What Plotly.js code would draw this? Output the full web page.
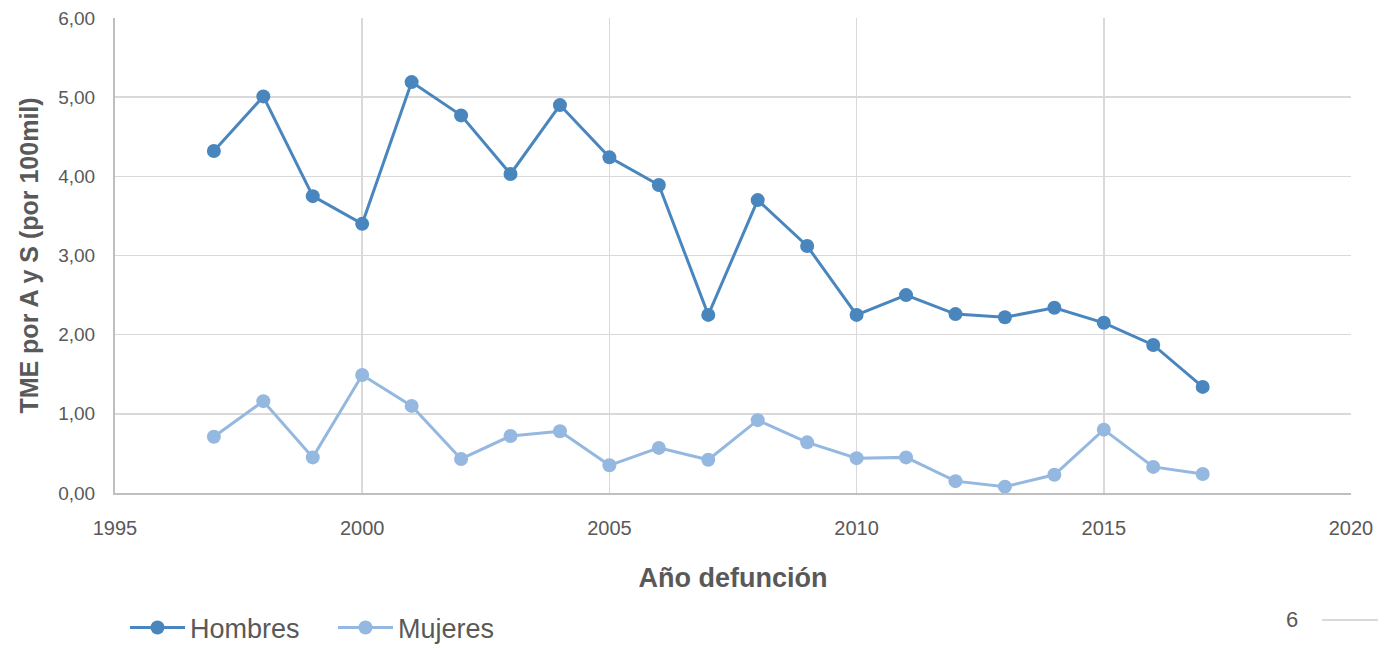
<!DOCTYPE html>
<html><head><meta charset="utf-8">
<script src="https://cdn.plot.ly/plotly-3.0.1.min.js"></script>
<style>html,body{margin:0;padding:0;background:#fff}#c{width:1378px;height:646px}</style>
</head><body><div id="c"></div>
<script>
const years = [1997,1998,1999,2000,2001,2002,2003,2004,2005,2006,2007,2008,2009,2010,2011,2012,2013,2014,2015,2016,2017];
const hombres = [4.32,5.01,3.75,3.40,5.19,4.77,4.03,4.90,4.24,3.89,2.25,3.70,3.12,2.25,2.50,2.26,2.22,2.34,2.15,1.87,1.34];
const mujeres = [0.71,1.16,0.45,1.49,1.10,0.43,0.72,0.78,0.35,0.57,0.42,0.92,0.64,0.44,0.45,0.15,0.08,0.23,0.80,0.33,0.24];
const font = "Liberation Sans, Arial, sans-serif";
const traces = [
  {x: years, y: hombres, name: 'Hombres', mode: 'lines+markers', line: {color: '#4a86be', width: 3}, marker: {size: 14, color: '#4a86be'}},
  {x: years, y: mujeres, name: 'Mujeres', mode: 'lines+markers', line: {color: '#95b8e0', width: 3}, marker: {size: 14, color: '#95b8e0'}}
];
const layout = {
  width: 1378, height: 646,
  margin: {l: 115, r: 27, t: 18, b: 153, autoexpand: false},
  separators: ',.',
  paper_bgcolor: '#fff', plot_bgcolor: '#fff',
  font: {family: font, color: '#595959', size: 19},
  showlegend: true,
  legend: {orientation: 'h', x: 10/1236, xanchor: 'left', y: (493-628)/475, yanchor: 'middle', font: {size: 27, color: '#595959'},
    tracegroupgap: 0, itemwidth: 55, entrywidth: 138, entrywidthmode: 'pixels', bgcolor: 'rgba(0,0,0,0)'},
  xaxis: {range: [1995, 2020], dtick: 5, tick0: 1995, tickformat: 'd', showgrid: true, gridcolor: '#d9d9d9', gridwidth: 1.5,
    showline: true, linecolor: '#bfbfbf', linewidth: 2, zeroline: false, ticks: '', ticklen: 0, automargin: false,
    ticklabelstandoff: 16,
    tickfont: {size: 20, color: '#595959'},
    title: {text: 'Año defunción', font: {size: 27, color: '#595959', family: font, weight: 'bold'}, standoff: 30}},
  yaxis: {range: [0, 6], dtick: 1, tickformat: '.2f', showgrid: true, gridcolor: '#d9d9d9', gridwidth: 1.5,
    showline: true, linecolor: '#bfbfbf', linewidth: 2, zeroline: false, ticks: '', ticklen: 0, automargin: false,
    ticklabelstandoff: 14,
    tickfont: {size: 19, color: '#595959'},
    title: {text: 'TME por A y S (por 100mil)', font: {size: 25, color: '#595959', family: font, weight: 'bold'}, standoff: 12}},
  annotations: [{xref: 'paper', yref: 'paper', x: (1292-115)/1236, y: (493-619)/475, text: '6', showarrow: false, xanchor: 'center', yanchor: 'middle', font: {size: 22, color: '#595959'}}],
  shapes: [{type: 'line', xref: 'paper', yref: 'paper', x0: (1322-115)/1236, x1: (1378-115)/1236, y0: (493-620)/475, y1: (493-620)/475, line: {color: '#d9d9d9', width: 2}}]
};
Plotly.newPlot('c', traces, layout, {displayModeBar: false, staticPlot: true});
</script></body></html>
